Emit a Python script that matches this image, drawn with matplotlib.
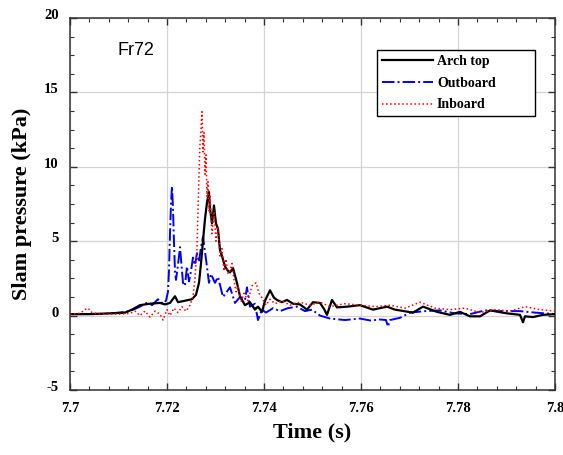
import matplotlib
matplotlib.use("Agg")
import matplotlib.pyplot as plt
from matplotlib.ticker import MultipleLocator
from matplotlib.transforms import ScaledTranslation

# time (s) and slam pressure (kPa)
t_arch = [7.70000, 7.70412, 7.70825, 7.71134, 7.71278, 7.71443, 7.71649, 7.71856, 7.71959, 7.72062,
          7.72165, 7.72227, 7.72371, 7.72515, 7.72598, 7.72660, 7.72701, 7.72742, 7.72784, 7.72825,
          7.72866, 7.72887, 7.72928, 7.72969, 7.73010, 7.73052, 7.73093, 7.73134, 7.73196, 7.73258,
          7.73299, 7.73361, 7.73443, 7.73505, 7.73608, 7.73711, 7.73814, 7.73876, 7.73959, 7.74021,
          7.74124, 7.74206, 7.74268, 7.74371, 7.74474, 7.74598, 7.74742, 7.74887, 7.75010, 7.75155,
          7.75237, 7.75299, 7.75402, 7.75505, 7.75711, 7.75979, 7.76247, 7.76536, 7.76701, 7.77072,
          7.77278, 7.77567, 7.77835, 7.78041, 7.78247, 7.78454, 7.78660, 7.79010, 7.79278, 7.79340,
          7.79381, 7.79546, 7.79753, 7.80000]
p_arch = [0.1, 0.1, 0.15, 0.2, 0.4, 0.7, 0.8, 0.85, 0.75, 0.85,
          1.3, 0.9, 1.0, 1.1, 1.4, 2.2, 3.5, 5.0, 6.5, 7.6,
          8.3, 7.2, 6.2, 7.4, 6.2, 5.8, 4.4, 4.0, 3.3, 3.0,
          2.9, 3.2, 2.2, 1.3, 0.7, 0.9, 0.4, 0.6, 0.25, 1.0,
          1.7, 1.2, 1.05, 0.9, 1.05, 0.8, 0.75, 0.4, 0.9, 0.85,
          0.45, 0.05, 1.05, 0.55, 0.6, 0.7, 0.4, 0.6, 0.4, 0.2,
          0.6, 0.25, 0.05, 0.25, -0.05, -0.05, 0.35, 0.15, 0.05, -0.45,
          -0.05, -0.1, 0.05, 0.1]

t_out = [7.70000, 7.70619, 7.71031, 7.71237, 7.71443, 7.71608, 7.71691, 7.71814, 7.71918, 7.71979,
         7.72021, 7.72041, 7.72062, 7.72083, 7.72103, 7.72124, 7.72144, 7.72165, 7.72186, 7.72227,
         7.72268, 7.72289, 7.72330, 7.72371, 7.72412, 7.72454, 7.72495, 7.72536, 7.72577, 7.72619,
         7.72660, 7.72701, 7.72742, 7.72804, 7.72866, 7.72907, 7.72990, 7.73052, 7.73155, 7.73299,
         7.73402, 7.73505, 7.73608, 7.73649, 7.73711, 7.73814, 7.73876, 7.73959, 7.74041, 7.74186,
         7.74330, 7.74495, 7.74680, 7.74845, 7.74990, 7.75155, 7.75361, 7.75670, 7.75979, 7.76227,
         7.76351, 7.76515, 7.76557, 7.76598, 7.76804, 7.77010, 7.77320, 7.77629, 7.77938, 7.78247,
         7.78557, 7.78866, 7.79278, 7.79588, 7.80000]
p_out = [0.1, 0.1, 0.2, 0.3, 0.6, 0.9, 0.7, 1.1, 0.8, 1.0,
         1.6, 3.0, 5.5, 7.5, 8.7, 7.2, 5.0, 3.0, 2.4, 3.4,
         4.6, 3.8, 2.2, 2.0, 3.3, 2.3, 3.0, 3.9, 3.4, 4.2,
         3.6, 4.6, 5.3, 3.8, 2.2, 2.8, 2.2, 2.6, 1.25, 1.9,
         0.85, 1.25, 1.05, 1.9, 0.6, 0.8, -0.3, 0.4, 0.2, 0.5,
         0.3, 0.5, 0.6, 0.3, 0.4, 0.0, -0.2, -0.3, -0.2, -0.35,
         -0.25, -0.3, -0.75, -0.3, -0.15, 0.2, 0.3, 0.35, 0.15, 0.1,
         0.35, 0.3, 0.3, 0.2, 0.1]

t_in = [7.70000, 7.70206, 7.70309, 7.70371, 7.70454, 7.70619, 7.71031, 7.71237, 7.71340, 7.71443,
        7.71546, 7.71649, 7.71753, 7.71856, 7.71918, 7.72000, 7.72062, 7.72144, 7.72227, 7.72309,
        7.72392, 7.72474, 7.72536, 7.72577, 7.72619, 7.72639, 7.72660, 7.72680, 7.72701, 7.72722,
        7.72742, 7.72763, 7.72784, 7.72804, 7.72825, 7.72845, 7.72866, 7.72887, 7.72928, 7.72969,
        7.73010, 7.73052, 7.73093, 7.73134, 7.73175, 7.73216, 7.73258, 7.73299, 7.73340, 7.73381,
        7.73423, 7.73464, 7.73526, 7.73588, 7.73670, 7.73753, 7.73835, 7.73897, 7.73959, 7.74041,
        7.74124, 7.74227, 7.74371, 7.74536, 7.74742, 7.74948, 7.75155, 7.75361, 7.75670, 7.75979,
        7.76289, 7.76598, 7.76907, 7.77216, 7.77526, 7.77835, 7.78144, 7.78454, 7.78763, 7.79072,
        7.79381, 7.79691, 7.80000]
p_in = [0.1, 0.15, 0.4, 0.5, 0.2, 0.1, 0.1, 0.15, 0.3, 0.0,
        0.3, -0.1, 0.3, 0.1, -0.3, 0.4, 0.0, 0.5, 0.2, 0.6,
        0.3, 0.7, 1.3, 2.5, 4.5, 7.0, 9.5, 11.5, 12.5, 13.7,
        11.0, 12.3, 9.5, 10.8, 8.0, 9.0, 7.0, 8.0, 5.5, 7.0,
        5.0, 6.0, 4.0, 4.5, 3.0, 3.8, 2.8, 3.0, 3.5, 2.4,
        1.6, 2.0, 0.9, 1.5, 1.0, 2.0, 2.2, 1.5, 1.2, 0.7,
        1.1, 0.8, 1.0, 0.7, 0.9, 0.7, 0.9, 0.6, 0.8, 0.7,
        0.6, 0.7, 0.5, 0.9, 0.5, 0.4, 0.5, 0.2, 0.4, 0.3,
        0.6, 0.4, 0.3]

x_ticks = [7.7, 7.72, 7.74, 7.76, 7.78, 7.8]
x_ticklabels = ['7.7', '7.72', '7.74', '7.76', '7.78', '7.8']
y_ticks = [-5, 0, 5, 10, 15, 20]

label_font = ['Liberation Serif', 'DejaVu Serif']

fig = plt.figure(figsize=(5.63, 4.55), dpi=100)
ax = fig.add_axes([0.1243, 0.1429, 0.8615, 0.8175])

ax.plot(t_arch, p_arch, color='black', linewidth=1.6, label='Arch top', zorder=4)
ax.plot(t_out, p_out, color='blue', linestyle='-.', linewidth=1.4, label='Outboard', zorder=3)
ax.plot(t_in, p_in, color='red', linestyle=':', linewidth=1.1, label='Inboard', zorder=5)

ax.set_xlim(7.7, 7.8)
ax.set_ylim(-5, 20)
ax.xaxis.set_minor_locator(MultipleLocator(0.004))
ax.yaxis.set_minor_locator(MultipleLocator(1.25))
ax.set_xticks(x_ticks)
ax.set_xticklabels(x_ticklabels)
ax.set_yticks(y_ticks)
ax.set_yticklabels([str(v) for v in y_ticks])

ax.tick_params(which='both', direction='in', top=True, right=True, color='#333333')
ax.tick_params(which='major', length=5, width=1)
ax.tick_params(axis='x', which='major', pad=9)
ax.tick_params(axis='y', which='major', pad=8)
ax.tick_params(which='minor', length=3, width=0.8)

# y labels sit a little above their ticks in the original
shift_up = ScaledTranslation(0, 0.04, fig.dpi_scale_trans)
for lab in ax.get_yticklabels():
    lab.set_transform(lab.get_transform() + shift_up)
for lab in ax.get_xticklabels() + ax.get_yticklabels():
    lab.set_family(label_font)
    lab.set_fontweight('bold')
    lab.set_fontsize(10.5)

ax.grid(True, which='major', color='#d4d4d4', linewidth=0.9)
ax.set_axisbelow(True)
for s in ax.spines.values():
    s.set_color('#333333')
    s.set_linewidth(1.1)

ax.set_xlabel('Time (s)', family=label_font, fontweight='bold', fontsize=16, labelpad=5)
ax.set_ylabel('Slam pressure (kPa)', family=label_font, fontweight='bold', fontsize=16, labelpad=9)

ax.text(7.7099, 17.8, 'Fr72', family=['Liberation Sans', 'DejaVu Sans'], fontsize=13,
        ha='left', va='center')

leg = ax.legend(loc='upper left', bbox_to_anchor=(0.633, 0.0, 0.326, 0.913), mode='expand',
                borderaxespad=0, fancybox=False, edgecolor='black', framealpha=1,
                handlelength=3.67, handletextpad=0.3, borderpad=0.35, labelspacing=0.62,
                prop={'family': label_font, 'weight': 'bold', 'size': 10})
leg.get_frame().set_linewidth(1.0)

fig.savefig('out.png', dpi=100)
